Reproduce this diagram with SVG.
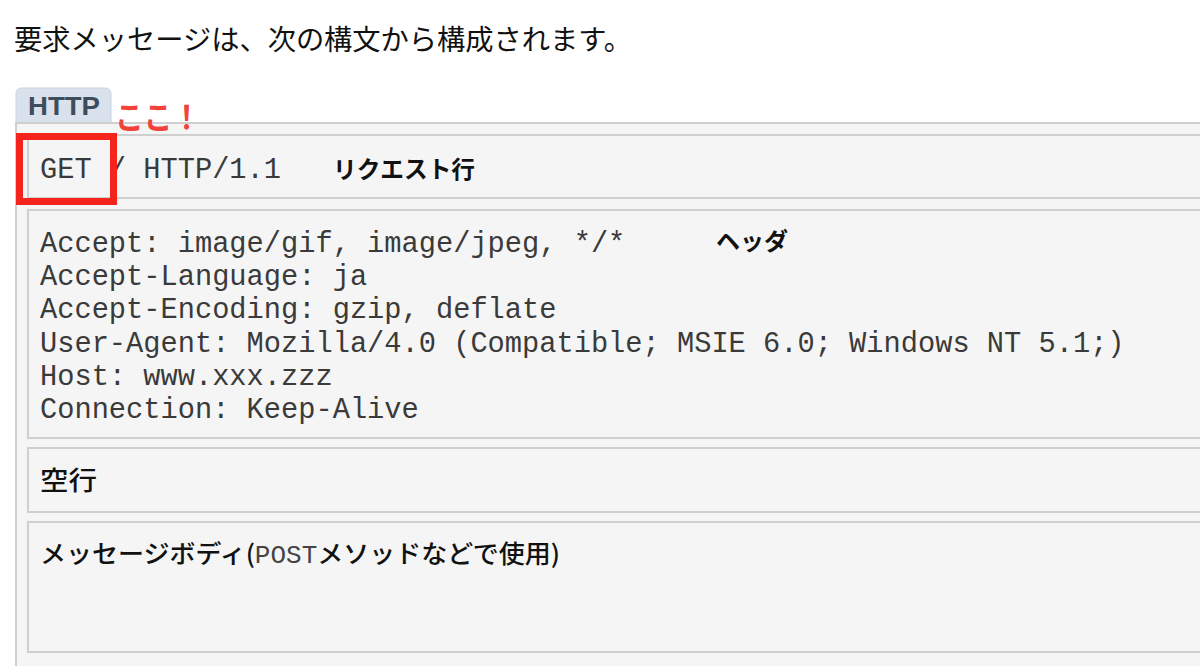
<svg xmlns="http://www.w3.org/2000/svg" width="1200" height="666" viewBox="0 0 1200 666">
<style>
.jp{font-family:"Noto Sans CJK JP","Noto Sans",sans-serif;fill:#111}
.mono{font-family:"Liberation Mono","DejaVu Sans Mono",monospace;font-size:28.7px;fill:#3a3a3a}
.box{fill:#f5f5f5;stroke:#cfcfcf;stroke-width:2}
</style>
<rect width="1200" height="666" fill="#ffffff"/>
<g id="title"><text class="jp" x="14" y="50" font-size="28" textLength="618" lengthAdjust="spacingAndGlyphs" fill="#222">要求メッセージは、次の構文から構成されます。</text></g>
<g id="tab">
<path d="M16,123 V94 Q16,88 22,88 H105 Q111,88 111,94 V123 Z" fill="#d8e1ec" stroke="#c9d3de" stroke-width="1"/>
<text x="28" y="115" font-family="Liberation Sans, Arial, sans-serif" font-weight="bold" font-size="25" fill="#3d4d5c" textLength="72" lengthAdjust="spacingAndGlyphs">HTTP</text>
</g>
<g id="container"><rect class="box" x="16" y="123" width="1200" height="560"/></g>
<g id="request-line">
<rect class="box" x="28" y="135" width="1190" height="63"/>
<text class="mono" x="40" y="178">GET / HTTP/1.1</text>
<text class="jp" x="333" y="178" font-size="24" font-weight="bold" textLength="142" lengthAdjust="spacingAndGlyphs">リクエスト行</text>
</g>
<g id="headers">
<rect class="box" x="28" y="210" width="1190" height="228"/>
<text class="mono"><tspan x="40" y="252">Accept: image/gif, image/jpeg, */*</tspan><tspan x="40" y="285">Accept-Language: ja</tspan><tspan x="40" y="318">Accept-Encoding: gzip, deflate</tspan><tspan x="40" y="352">User-Agent: Mozilla/4.0 (Compatible; MSIE 6.0; Windows NT 5.1;)</tspan><tspan x="40" y="385">Host: www.xxx.zzz</tspan><tspan x="40" y="418">Connection: Keep-Alive</tspan></text>
<text class="jp" x="716" y="250" font-size="24" font-weight="bold" textLength="72" lengthAdjust="spacingAndGlyphs">ヘッダ</text>
</g>
<g id="blank-line">
<rect class="box" x="28" y="448" width="1190" height="64"/>
<text class="jp" x="40" y="490" font-size="26" font-weight="500" textLength="57" lengthAdjust="spacingAndGlyphs">空行</text>
</g>
<g id="body">
<rect class="box" x="28" y="522" width="1190" height="130"/>
<text class="jp" x="40" y="563" font-size="25" font-weight="500" textLength="520" lengthAdjust="spacingAndGlyphs">メッセージボディ(<tspan font-family="Liberation Mono, monospace" font-weight="normal" fill="#444">POST</tspan>メソッドなどで使用)</text>
</g>
<g id="annotation">
<rect x="19.5" y="136.5" width="94" height="65" fill="none" stroke="#f5231b" stroke-width="7"/>
<text x="115" y="129" font-family="Noto Sans CJK JP, sans-serif" font-size="32" font-weight="bold" fill="#f2423a" textLength="86" lengthAdjust="spacingAndGlyphs">ここ！</text>
</g>
</svg>
